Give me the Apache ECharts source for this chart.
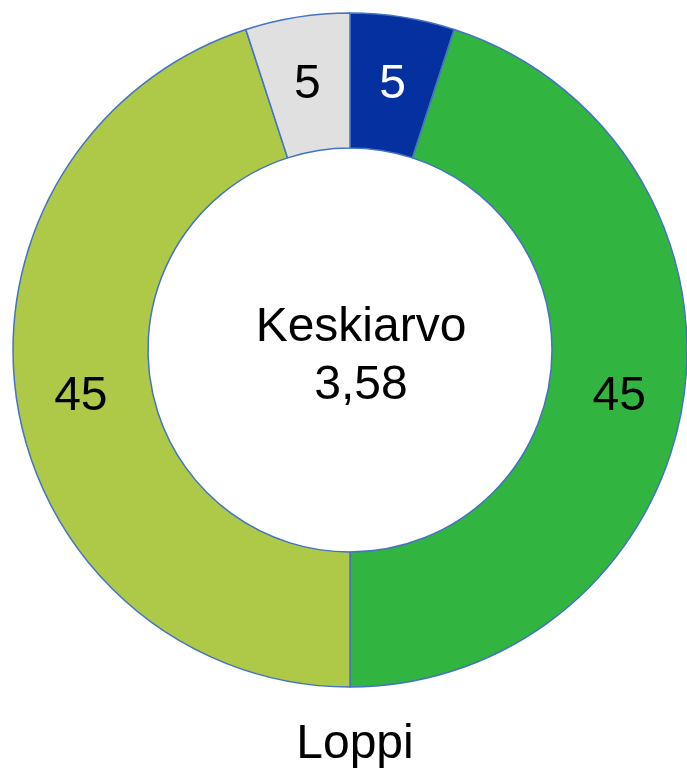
<!DOCTYPE html>
<html>
<head>
<meta charset="utf-8">
<script src="https://cdn.jsdelivr.net/npm/echarts@6/dist/echarts.min.js"></script>
<style>
  html, body { margin: 0; padding: 0; background: #fff; }
  #chart { width: 687px; height: 769px; }
</style>
</head>
<body>
<div id="chart"></div>
<script>
  // data
  var names = ['1', '2', '3', '4'];
  var values = [5, 45, 45, 5];
  var colors = ['#0530A0', '#32B441', '#ADC947', '#E0E0E0'];
  var labelColors = ['#ffffff', '#000000', '#000000', '#000000'];
  var centerText = ['Keskiarvo', '3,58'];
  var chartTitle = 'Loppi';

  var myChart = echarts.init(document.getElementById('chart'));
  var font = 'Liberation Sans, Arial, sans-serif';

  var seriesData = values.map(function (v, i) {
    return {
      name: names[i],
      value: v,
      itemStyle: { color: colors[i] },
      label: { color: labelColors[i] }
    };
  });

  function txt(s, x, y) {
    return {
      type: 'text',
      x: x,
      y: y,
      style: {
        text: s,
        fill: '#000',
        font: 'normal 48px ' + font,
        align: 'center',
        verticalAlign: 'middle'
      }
    };
  }

  var option = {
    animation: false,
    graphic: [
      txt(centerText[0], 361, 328),
      txt(centerText[1], 361, 386),
      txt(chartTitle, 355, 745)
    ],
    series: [{
      type: 'pie',
      center: [350, 350],
      radius: [202, 337],
      startAngle: 90,
      clockwise: true,
      itemStyle: {
        borderColor: '#4472C4',
        borderWidth: 1.5
      },
      label: {
        show: true,
        position: 'inside',
        formatter: '{c}',
        fontFamily: font,
        fontSize: 48,
        offset: [0, 4]
      },
      labelLine: { show: false },
      emphasis: { disabled: true },
      data: seriesData
    }]
  };

  myChart.setOption(option);
</script>
</body>
</html>
